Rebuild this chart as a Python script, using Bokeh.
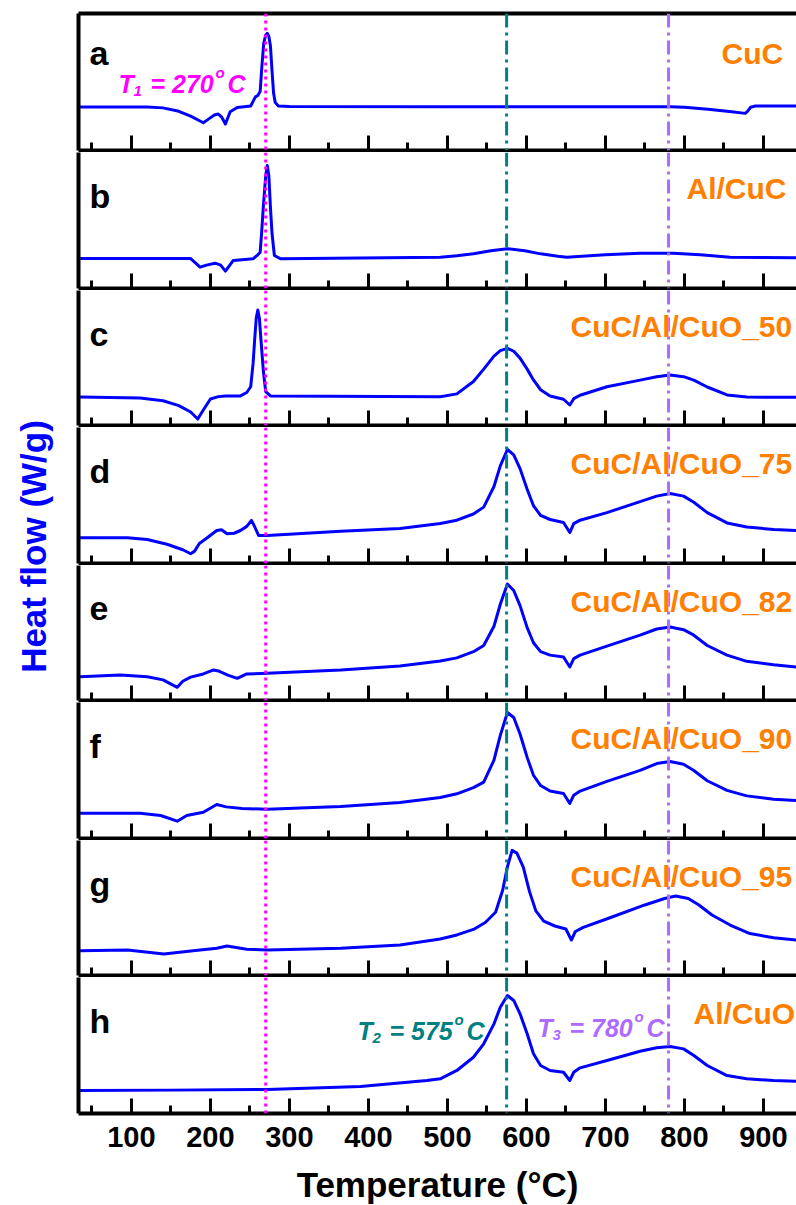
import math
from bokeh.plotting import figure
from bokeh.layouts import column, row
from bokeh.models import Range1d, FixedTicker, Span, Label, LinearAxis, CustomLabelingPolicy
from bokeh.embed import file_html
from bokeh.resources import INLINE

# ---------------- data (temperature in degC, heat flow in W/g, arbitrary offset per panel) -----
t_a = [35, 120, 140, 160, 175, 185, 191, 198, 205, 210, 214, 219, 225, 234, 251, 257, 260, 263,
       265, 267.5, 270, 272, 274, 276, 278, 280, 282, 286, 300, 500, 782, 800, 830, 860, 877, 880,
       884, 890, 942]
hf_a = [3.16, 3.16, 3.1, 2.85, 2.5, 2.2, 2.02, 2.3, 2.58, 2.65, 2.45, 1.93, 2.82, 3.13, 3.24, 3.9,
        4.0, 4.3, 6.0, 7.8, 8.4, 8.52, 8.3, 7.6, 5.8, 4.16, 3.5, 3.24, 3.2, 3.18, 3.19, 3.15, 3.0,
        2.82, 2.7, 2.85, 3.15, 3.24, 3.24]

t_b = [35, 175, 187, 195, 206, 213, 219, 229, 254, 260, 263, 265, 267, 270, 272, 274, 276, 278,
       281, 289, 491, 512, 533, 555, 576, 598, 618, 640, 651, 700, 744, 786, 820, 858, 942]
hf_b = [2.18, 2.18, 1.55, 1.7, 1.84, 1.7, 1.26, 2.04, 2.16, 2.45, 2.64, 4.2, 5.96, 8.2, 8.95, 8.2,
        5.91, 4.0, 2.4, 2.16, 2.28, 2.38, 2.52, 2.75, 2.89, 2.75, 2.52, 2.35, 2.28, 2.45, 2.57,
        2.57, 2.45, 2.28, 2.23]

t_c = [35, 111, 140, 160, 175, 184, 191, 200, 210, 219, 238, 246, 251, 254, 256, 258, 260, 262,
       264, 267, 270, 276, 491, 512, 533, 546, 559, 567, 576, 584, 592, 601, 609, 618, 630, 647,
       655, 660, 668, 702, 744, 765, 782, 799, 812, 829, 854, 879, 913, 942]
hf_c = [2.07, 2.0, 1.8, 1.45, 0.98, 0.47, 1.13, 1.93, 2.1, 2.15, 2.15, 2.4, 2.82, 4.5, 6.22, 7.8,
        8.4, 7.8, 6.22, 4.0, 2.46, 2.15, 2.09, 2.3, 3.2, 4.1, 5.05, 5.45, 5.61, 5.4, 4.9, 4.1,
        3.31, 2.6, 2.15, 1.91, 1.49, 1.95, 2.2, 2.82, 3.3, 3.55, 3.67, 3.55, 3.3, 2.8, 2.22, 2.08,
        2.05, 2.05]

t_d = [35, 95, 120, 145, 165, 175, 180, 186, 196, 208, 214, 221, 230, 238, 246, 252, 255, 261,
       272, 365, 440, 491, 512, 533, 546, 559, 567, 576, 584, 592, 601, 609, 618, 630, 647, 655,
       660, 668, 702, 744, 765, 782, 799, 812, 829, 854, 879, 913, 942]
hf_d = [1.87, 1.87, 1.75, 1.4, 1.0, 0.71, 0.9, 1.45, 1.87, 2.4, 2.45, 2.16, 2.2, 2.4, 2.7, 3.13,
        2.8, 2.04, 2.04, 2.35, 2.55, 2.91, 3.15, 3.6, 4.1, 5.6, 7.1, 8.29, 7.9, 6.9, 5.4, 4.2, 3.5,
        3.2, 2.98, 2.25, 2.9, 3.15, 3.7, 4.5, 4.9, 5.09, 4.9, 4.45, 3.7, 2.95, 2.65, 2.48, 2.4]

t_e = [35, 86, 120, 140, 158, 165, 175, 191, 204, 210, 222, 234, 246, 272, 365, 440, 491, 512,
       533, 546, 559, 567, 576, 584, 592, 601, 609, 618, 630, 647, 655, 660, 668, 702, 744, 765,
       782, 799, 812, 829, 854, 879, 913, 942]
hf_e = [1.73, 1.85, 1.73, 1.5, 0.96, 1.4, 1.7, 1.93, 2.22, 2.15, 1.85, 1.61, 1.93, 1.98, 2.22,
        2.51, 2.87, 3.1, 3.55, 4.0, 5.4, 7.0, 8.47, 8.0, 6.9, 5.3, 4.2, 3.55, 3.3, 3.16, 2.44,
        3.05, 3.3, 3.96, 4.76, 5.2, 5.35, 5.15, 4.75, 4.0, 3.3, 2.85, 2.6, 2.44]

t_f = [35, 111, 137, 158, 170, 191, 208, 220, 240, 272, 365, 440, 491, 512, 533, 546, 559, 567,
       576, 584, 592, 601, 609, 618, 630, 647, 655, 660, 668, 702, 744, 765, 782, 799, 812, 829,
       854, 879, 913, 942]
hf_f = [1.84, 1.84, 1.67, 1.26, 1.67, 1.91, 2.47, 2.3, 2.18, 2.13, 2.33, 2.62, 2.98, 3.25, 3.7,
        4.1, 5.7, 7.5, 9.16, 8.8, 7.6, 5.9, 4.6, 3.85, 3.45, 3.27, 2.55, 3.15, 3.45, 4.15, 4.95,
        5.45, 5.6, 5.4, 4.95, 4.2, 3.5, 3.1, 2.85, 2.76]

t_g = [35, 95, 141, 178, 208, 221, 246, 272, 365, 440, 491, 512, 533, 548, 561, 570, 576, 582,
       588, 596, 604, 612, 622, 636, 650, 657, 662, 672, 705, 750, 775, 789, 805, 818, 835, 858,
       883, 913, 942]
hf_g = [1.8, 1.85, 1.56, 1.8, 1.98, 2.15, 1.91, 1.85, 1.98, 2.22, 2.65, 2.95, 3.35, 3.85, 4.6,
        6.2, 7.9, 9.1, 8.9, 7.9, 6.1, 4.7, 3.95, 3.6, 3.38, 2.58, 3.2, 3.5, 4.18, 5.13, 5.6, 5.78,
        5.6, 5.15, 4.4, 3.67, 3.05, 2.75, 2.58]

t_h = [35, 150, 272, 390, 474, 491, 512, 533, 546, 559, 567, 576, 584, 592, 601, 609, 618, 630,
       647, 655, 660, 668, 702, 744, 765, 782, 799, 812, 829, 854, 879, 913, 942]
hf_h = [1.67, 1.7, 1.75, 1.96, 2.4, 2.52, 3.13, 4.09, 5.07, 6.52, 7.73, 8.58, 8.22, 7.25, 5.8,
        4.34, 3.49, 3.13, 3.0, 2.4, 3.0, 3.32, 3.85, 4.53, 4.78, 4.87, 4.7, 4.22, 3.49, 2.76,
        2.52, 2.4, 2.35]

panel_letters = ["a", "b", "c", "d", "e", "f", "g", "h"]
sample_names = ["CuC", "Al/CuC", "CuC/Al/CuO_50", "CuC/Al/CuO_75",
                "CuC/Al/CuO_82", "CuC/Al/CuO_90", "CuC/Al/CuO_95", "Al/CuO"]
temps = [t_a, t_b, t_c, t_d, t_e, t_f, t_g, t_h]
flows = [hf_a, hf_b, hf_c, hf_d, hf_e, hf_f, hf_g, hf_h]

major_ticks = [100, 200, 300, 400, 500, 600, 700, 800, 900]
minor_ticks = [50, 150, 250, 350, 450, 550, 650, 750, 850, 950]
T1, T2, T3 = 270, 575, 780
x_min, x_max = 33, 942

# ---------------- styles ----------------
FONT = "Liberation Sans"
BLUE = "#0000FF"
ORANGE = "#FF8000"
MAGENTA = "#FF00FF"
TEAL = "#008080"
PURPLE = "#AD6BFF"

frame_heights = [137, 136, 135, 136, 135, 136, 135, 136]
px_per_unit = 13.75
name_x = {"CuC": 643, "Al/CuC": 608, "Al/CuO": 615}
TOP_BORDER = 13
BOTTOM_BORDER = 90

xr = Range1d(x_min, x_max)
no_labels = CustomLabelingPolicy(code="for (const i of indices) indices.unset(i)\nreturn indices")


def temp_label(p, sub, val, color, x0, y0):
    common = dict(x_units="screen", y_units="screen", text_color=color,
                  text_font=FONT, text_font_style="bold italic",
                  text_baseline="alphabetic", text_align="left")
    p.add_layout(Label(x=x0, y=y0, text="T", text_font_size="25px", **common))
    p.add_layout(Label(x=x0 + 15, y=y0 - 7, text=sub, text_font_size="15px", **common))
    p.add_layout(Label(x=x0 + 32, y=y0, text="= " + str(val), text_font_size="25px", **common))
    p.add_layout(Label(x=x0 + 97, y=y0 + 11, text="o", text_font_size="15px", **common))
    p.add_layout(Label(x=x0 + 109, y=y0, text="C", text_font_size="25px", **common))


panels = []
n = len(panel_letters)
for i in range(n):
    fh = frame_heights[i]
    last = (i == n - 1)
    p = figure(frame_width=718, frame_height=fh, x_range=xr,
               y_range=Range1d(0, fh / px_per_unit),
               output_backend="svg", toolbar_location=None,
               min_border_left=2, min_border_right=0,
               min_border_top=TOP_BORDER if i == 0 else 0,
               min_border_bottom=BOTTOM_BORDER if last else 2,
               outline_line_color=None,
               background_fill_color="white", border_fill_color="white")
    p.xgrid.visible = False
    p.ygrid.visible = False

    # left border (axis line only)
    ya = p.yaxis[0]
    ya.ticker = FixedTicker(ticks=[])
    ya.axis_line_width = 4
    ya.axis_line_color = "black"
    ya.major_tick_in = 0
    ya.major_tick_out = 0
    ya.minor_tick_in = 0
    ya.minor_tick_out = 0
    ya.major_label_standoff = 0

    # bottom axis with inward ticks
    xa = p.xaxis[0]
    xa.ticker = FixedTicker(ticks=major_ticks, minor_ticks=minor_ticks)
    xa.axis_line_width = 4
    xa.axis_line_color = "black"
    xa.major_tick_in = 15
    xa.major_tick_out = 0
    xa.minor_tick_in = 8
    xa.minor_tick_out = 0
    xa.major_tick_line_width = 3
    xa.minor_tick_line_width = 3
    xa.major_tick_line_color = "black"
    xa.minor_tick_line_color = "black"
    if last:
        xa.major_label_text_font = FONT
        xa.major_label_text_font_style = "bold"
        xa.major_label_text_font_size = "29px"
        xa.major_label_text_color = "black"
        xa.major_label_standoff = 13
        xa.axis_label = "Temperature (°C)"
        xa.axis_label_text_font = FONT
        xa.axis_label_text_font_style = "bold"
        xa.axis_label_text_font_size = "35px"
        xa.axis_label_text_color = "black"
        xa.axis_label_standoff = 15
    else:
        xa.major_label_policy = no_labels
        xa.major_label_text_font_size = "0px"
        xa.major_label_standoff = 0

    if i == 0:
        top = LinearAxis(ticker=FixedTicker(ticks=[]), axis_line_width=4,
                         axis_line_color="black",
                         major_tick_in=0, major_tick_out=0,
                         minor_tick_in=0, minor_tick_out=0,
                         major_label_standoff=0)
        p.add_layout(top, "above")

    # curve
    p.line(temps[i], flows[i], line_color=BLUE, line_width=3, line_join="round")

    # reference temperature lines
    p.add_layout(Span(location=T1, dimension="height", line_color=MAGENTA,
                      line_width=3, line_dash="3 4"))
    p.add_layout(Span(location=T2, dimension="height", line_color=TEAL,
                      line_width=3, line_dash="14 5 3 5"))
    p.add_layout(Span(location=T3, dimension="height", line_color=PURPLE,
                      line_width=3, line_dash="14 5 3 5"))

    # panel letter
    p.add_layout(Label(x=11, y=fh - (39 if i == 0 else 43), x_units="screen", y_units="screen",
                       text=panel_letters[i], text_font=FONT, text_font_style="bold",
                       text_font_size="34px", text_color="black",
                       text_baseline="alphabetic"))
    # sample name
    name = sample_names[i]
    p.add_layout(Label(x=name_x.get(name, 492), y=fh - (40 if i == 0 else 36),
                       x_units="screen", y_units="screen",
                       text=name, text_font=FONT, text_font_style="bold",
                       text_font_size="30px", text_color=ORANGE,
                       text_baseline="alphabetic"))

    if i == 0:
        temp_label(p, "1", T1, MAGENTA, 40, 67)
    if last:
        temp_label(p, "2", T2, TEAL, 279, 83)
        temp_label(p, "3", T3, PURPLE, 459, 86)

    panels.append(p)

total_h = TOP_BORDER + sum(frame_heights) + 2 * (n - 1) + BOTTOM_BORDER

yfig = figure(width=76, height=total_h, x_range=(0, 1), y_range=(0, 1),
              output_backend="svg", toolbar_location=None,
              x_axis_location=None, y_axis_location=None,
              min_border=0, outline_line_color=None,
              background_fill_color="white", border_fill_color="white")
yfig.xgrid.visible = False
yfig.ygrid.visible = False
yfig.add_layout(Label(x=33, y=total_h - 546, x_units="screen", y_units="screen",
                      text="Heat flow (W/g)", angle=math.pi / 2,
                      text_font=FONT, text_font_style="bold", text_font_size="35px",
                      text_color=BLUE, text_align="center", text_baseline="middle"))

layout = row(yfig, column(*panels, spacing=0), spacing=0)

open("out.html", "w").write(file_html(layout, INLINE))
